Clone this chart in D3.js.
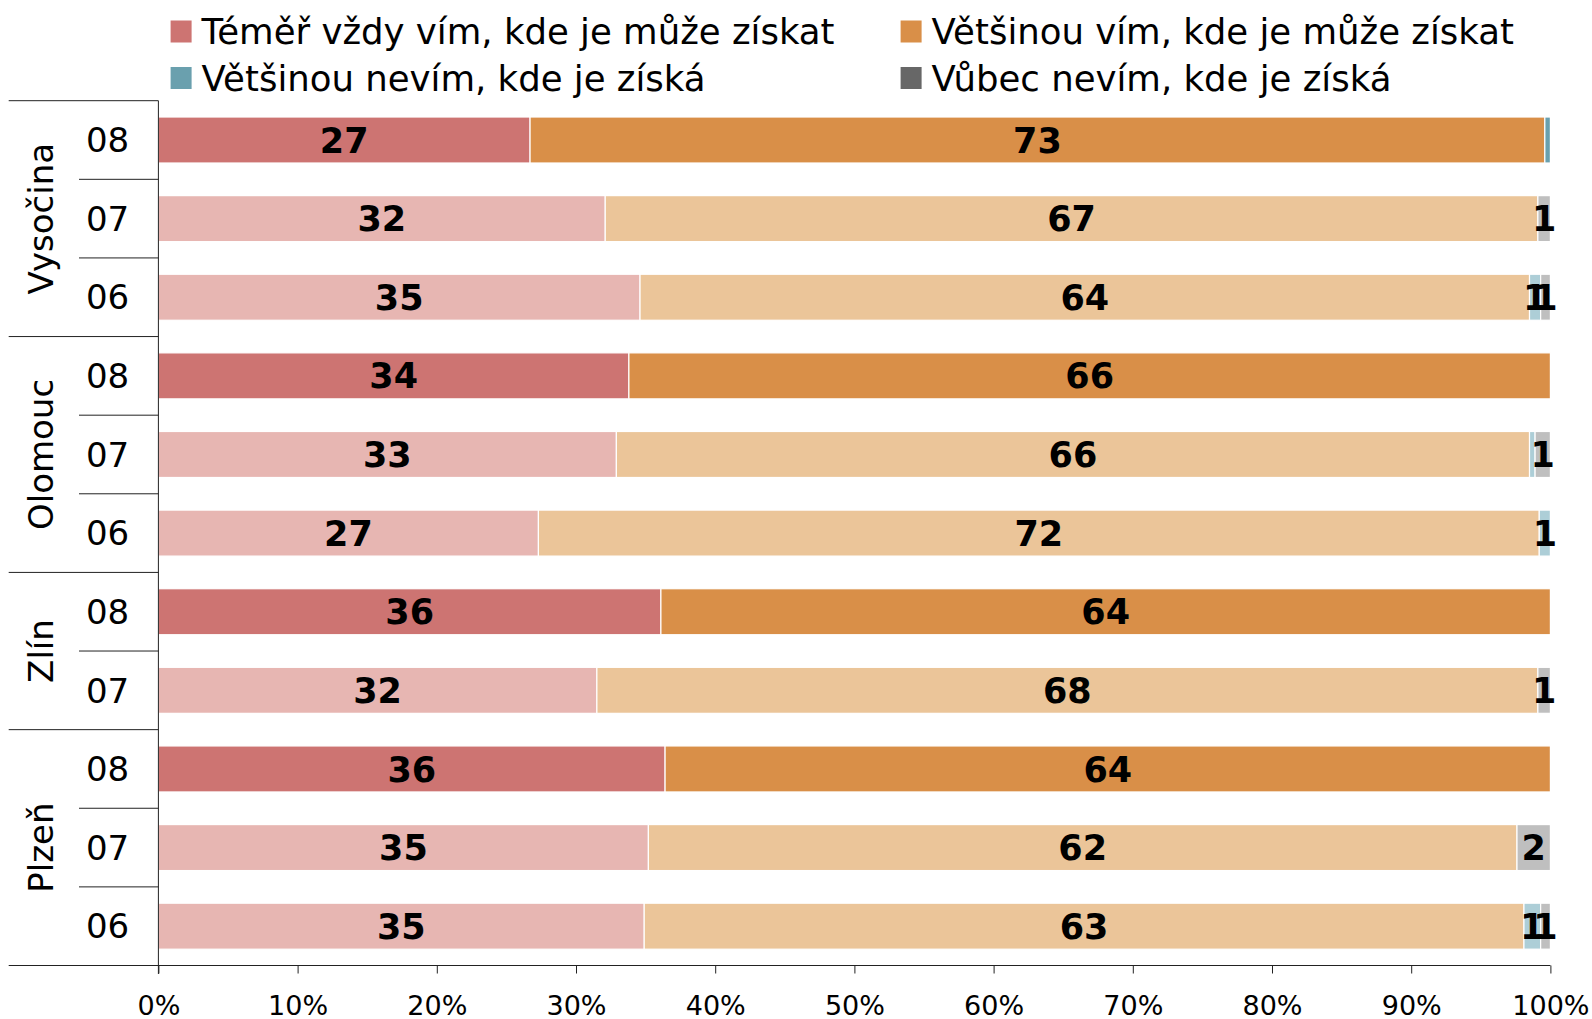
<!DOCTYPE html>
<html><head><meta charset="utf-8">
<script src="https://cdn.jsdelivr.net/npm/d3@7/dist/d3.min.js"></script>
<style>
html,body{margin:0;padding:0;background:#fff;}
svg{display:block;font-family:"DejaVu Sans",sans-serif;}
</style></head>
<body>
<svg id="c" width="1592" height="1019"></svg>
<script>
const seriesNames = ["Téměř vždy vím, kde je může získat","Většinou vím, kde je může získat","Většinou nevím, kde je získá","Vůbec nevím, kde je získá"];
const regions = ["Vysočina","Olomouc","Zlín","Plzeň"];
const regionYears = [["08","07","06"],["08","07","06"],["08","07"],["08","07","06"]];
const almostAlways = [26.7, 32.1, 34.6, 33.8, 32.9, 27.3, 36.1, 31.5, 36.4, 35.2, 34.9];
const mostlyKnow   = [72.9, 67.0, 63.9, 66.2, 65.6, 71.9, 63.9, 67.6, 63.6, 62.4, 63.2];
const mostlyDont   = [0.4, 0, 0.8, 0, 0.4, 0.8, 0, 0, 0, 0, 1.2];
const dontKnow     = [0, 0.9, 0.7, 0, 1.1, 0, 0, 0.9, 0, 2.4, 0.7];
const xTicks = [0,10,20,30,40,50,60,70,80,90,100];
const darkColors  = ["#CD7472","#D98F48","#6AA0AE","#676767"];
const lightColors = ["#E7B6B2","#EBC599","#ADCED7","#BFBFBF"];

const series = [almostAlways, mostlyKnow, mostlyDont, dontKnow];
const rows = [];
regions.forEach((r,gi)=>regionYears[gi].forEach(y=>rows.push({region:r, year:y, key:r+"-"+y, gi})));
rows.forEach((row,i)=>{ row.vals = series.map(s=>s[i]); });

const svg = d3.select("#c");
const x = d3.scaleLinear().domain([0,100]).range([158.4,1550.4]);
const y = d3.scaleBand().domain(rows.map(d=>d.key)).range([100.7,965.5]).padding(0);
const barH = y.step()*0.585;
const axisColor = "#222";

// bars
const g = svg.append("g");
rows.forEach(row=>{
  let cum = 0;
  const cy = y(row.key) + y.step()/2;
  const pal = row.year==="08" ? darkColors : lightColors;
  row.vals.forEach((v,si)=>{
    const x0 = x(cum), x1 = x(cum+v);
    cum += v;
    if (v<=0) return;
    g.append("rect").attr("x",x0).attr("y",cy-barH/2).attr("width",x1-x0).attr("height",barH)
      .attr("fill",pal[si]).attr("stroke","#fff").attr("stroke-width",1.2);
  });
  cum = 0;
  row.vals.forEach((v,si)=>{
    const x0 = x(cum), x1 = x(cum+v);
    cum += v;
    const lab = Math.round(v);
    if (lab<1) return;
    g.append("text").attr("x",(x0+x1)/2).attr("y",cy).attr("dy","0.36em")
      .attr("text-anchor","middle").attr("font-weight","bold").attr("font-size",35)
      .attr("fill","#000").text(lab);
  });
});

// x axis
const xAxis = d3.axisBottom(x).tickValues(xTicks).tickFormat(d=>d+"%").tickSize(8).tickSizeOuter(0);
const ax = svg.append("g").attr("transform","translate(0,965.5)").call(xAxis);
ax.select(".domain").remove();
ax.selectAll(".tick line").attr("stroke",axisColor);
ax.selectAll(".tick text").attr("font-size",27).attr("fill","#000").attr("dy",0).attr("y",49)
  .style("font-family","'DejaVu Sans',sans-serif");
svg.append("line").attr("x1",8.7).attr("x2",x(100)).attr("y1",965.5).attr("y2",965.5).attr("stroke",axisColor);

// left axis line
svg.append("line").attr("x1",x(0)).attr("x2",x(0)).attr("y1",100.7).attr("y2",974).attr("stroke",axisColor);

// category labels & separators
let idx = 0;
regions.forEach((r,gi)=>{
  const ys = regionYears[gi];
  const first = rows[idx], last = rows[idx+ys.length-1];
  const top = y(first.key), bot = y(last.key)+y.step();
  svg.append("line").attr("x1",8.7).attr("x2",x(0)).attr("y1",top).attr("y2",top).attr("stroke",axisColor);
  ys.forEach((yr,k)=>{
    const row = rows[idx+k];
    const t = y(row.key);
    if (k>0) svg.append("line").attr("x1",79).attr("x2",x(0)).attr("y1",t).attr("y2",t).attr("stroke",axisColor);
    svg.append("text").attr("x",107.6).attr("y",t+y.step()/2).attr("dy","0.36em")
      .attr("text-anchor","middle").attr("font-size",34).attr("fill","#000").text(yr);
  });
  const cy = (top+bot)/2;
  svg.append("text").attr("transform",`translate(40.6,${cy}) rotate(-90)`).attr("dy","0.36em")
    .attr("text-anchor","middle").attr("font-size",34).attr("fill","#000").text(r);
  idx += ys.length;
});

// legend
const legPos = [[170.6,31.5],[900.6,31.5],[170.6,78],[900.6,78]];
seriesNames.forEach((n,i)=>{
  const [lx,ly] = legPos[i];
  svg.append("rect").attr("x",lx).attr("y",ly-11).attr("width",21).attr("height",22).attr("fill",darkColors[i]);
  svg.append("text").attr("x",lx+31).attr("y",ly).attr("dy","0.36em").attr("font-size",35.5).attr("fill","#000").text(n);
});
</script>
</body></html>
